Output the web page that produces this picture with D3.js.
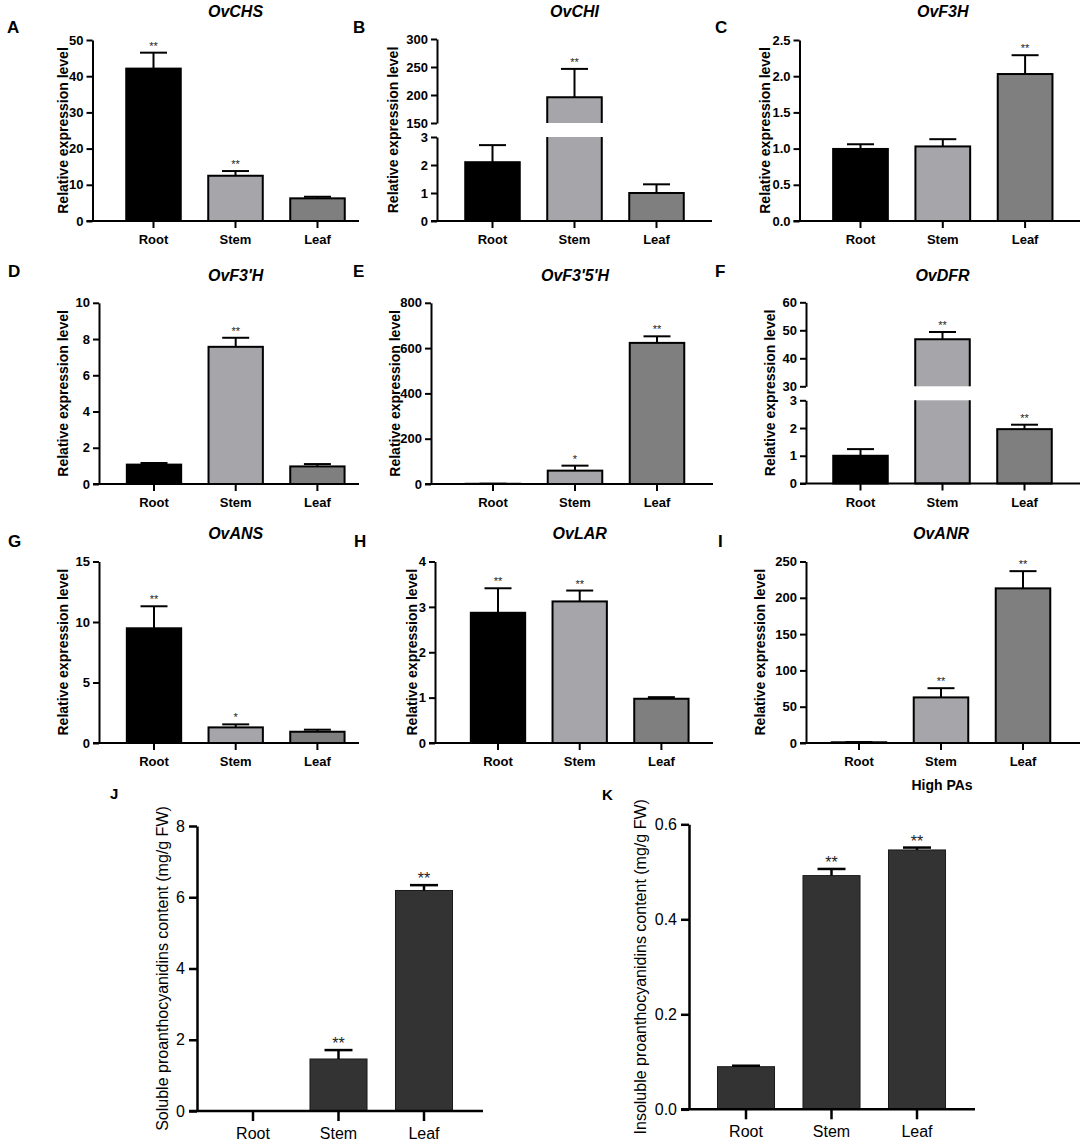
<!DOCTYPE html>
<html><head><meta charset="utf-8">
<script src="https://cdn.jsdelivr.net/npm/d3@7"></script>
<style>body{margin:0;background:#fff}svg{display:block}</style>
</head><body><svg id="c" width="1084" height="1144"></svg>
<script>
// ---------- DATA ----------
const categories = ["Root", "Stem", "Leaf"];

const chsMean = [42.1, 12.5, 6.26], chsErr = [4.4, 1.3, 0.44], chsSig = ["**", "**", ""];
const chiMean = [2.1, 196, 1.0], chiErr = [0.61, 50.6, 0.31], chiSig = ["", "**", ""];
const f3hMean = [0.995, 1.03, 2.03], f3hErr = [0.065, 0.1, 0.26], f3hSig = ["", "", "**"];
const f3phMean = [1.07, 7.57, 0.97], f3phErr = [0.09, 0.5, 0.13], f3phSig = ["", "**", ""];
const f35hMean = [1, 59, 623], f35hErr = [0.3, 22, 29], f35hSig = ["", "*", "**"];
const dfrMean = [1.0, 46.8, 1.96], dfrErr = [0.24, 2.6, 0.16], dfrSig = ["", "**", "**"];
const ansMean = [9.48, 1.29, 0.93], ansErr = [1.82, 0.25, 0.17], ansSig = ["**", "*", ""];
const larMean = [2.87, 3.12, 0.975], larErr = [0.54, 0.24, 0.035], larSig = ["**", "**", ""];
const anrMean = [1, 62.8, 213], anrErr = [0.3, 12.7, 23.7], anrSig = ["", "**", "**"];
const solubleMean = [0.005, 1.46, 6.19], solubleErr = [0, 0.25, 0.15], solubleSig = ["", "**", "**"];
const insolubleMean = [0.0897, 0.492, 0.546], insolubleErr = [0.002, 0.014, 0.005], insolubleSig = ["", "**", "**"];

const chsTicks = [0, 10, 20, 30, 40, 50];
const chiTicksLow = [0, 1, 2, 3], chiTicksHigh = [150, 200, 250, 300];
const f3hTicks = [0, 0.5, 1.0, 1.5, 2.0, 2.5];
const f3phTicks = [0, 2, 4, 6, 8, 10];
const f35hTicks = [0, 200, 400, 600, 800];
const dfrTicksLow = [0, 1, 2, 3], dfrTicksHigh = [30, 40, 50, 60];
const ansTicks = [0, 5, 10, 15];
const larTicks = [0, 1, 2, 3, 4];
const anrTicks = [0, 50, 100, 150, 200, 250];
const solubleTicks = [0, 2, 4, 6, 8];
const insolubleTicks = [0.0, 0.2, 0.4, 0.6];

const exprLabel = "Relative expression level";
const solubleLabel = "Soluble proanthocyanidins content (mg/g FW)";
const insolubleLabel = "Insoluble proanthocyanidins content (mg/g FW)";
const groupNote = "High PAs";

// ---------- LAYOUT ----------
const FONT = '"Liberation Sans", Arial, Helvetica, sans-serif';
const topFills = ["#000000", "#a6a6aa", "#7f7f7f"];
const rows = [
  {titleY: 17, letterY: 33, top: 40, bottom: 221},
  {titleY: 281, letterY: 277, top: 302.8, bottom: 484},
  {titleY: 539, letterY: 547, top: 561.5, bottom: 743}
];
function topPanel(row, o) {
  const r = rows[row];
  return Object.assign({
    style: "top", pad: 0.335, tick: 6, tpad: 3, xTick: 7, catDy: 23, axisW: 2,
    tickFont: 13, catFont: 13, labelFont: 14, bold: true, cap: 27, starFont: 11, starDy: 3,
    titleY: r.titleY, letterY: r.letterY, fills: topFills, barStroke: "#000", barStrokeW: 2,
    ylabel: exprLabel,
    segments: o.segments || [{domain: [0, o.ticks[o.ticks.length - 1]], range: [r.bottom, r.top], ticks: o.ticks}]
  }, o);
}
const panels = [
  topPanel(0, {letter: "A", title: "OvCHS", letterX: 7, axisX: 92.5, c0: 153.5, step: 82, xEnd: 359, labelX: 63, ticks: chsTicks, mean: chsMean, err: chsErr, sig: chsSig}),
  topPanel(0, {letter: "B", title: "OvCHI", letterX: 353, axisX: 437, c0: 492.5, step: 82, xEnd: 712, labelX: 393, mean: chiMean, err: chiErr, sig: chiSig,
    segments: [{domain: [0, 3], range: [221, 137], ticks: chiTicksLow}, {domain: [150, 300], range: [123, 39], ticks: chiTicksHigh}]}),
  topPanel(0, {letter: "C", title: "OvF3H", letterX: 715, axisX: 799.5, c0: 860.5, step: 82.3, xEnd: 1080, labelX: 765, ticks: f3hTicks, fmt: ".1f", mean: f3hMean, err: f3hErr, sig: f3hSig}),
  topPanel(1, {letter: "D", title: "OvF3'H", letterX: 8, axisX: 99, c0: 154, step: 81.7, xEnd: 359, labelX: 62.5, ticks: f3phTicks, mean: f3phMean, err: f3phErr, sig: f3phSig}),
  topPanel(1, {letter: "E", title: "OvF3'5'H", letterX: 353, axisX: 431, c0: 493, step: 82, xEnd: 713, labelX: 395, ticks: f35hTicks, mean: f35hMean, err: f35hErr, sig: f35hSig}),
  topPanel(1, {letter: "F", title: "OvDFR", letterX: 715, axisX: 806, c0: 860.5, step: 82, xEnd: 1080, labelX: 770, mean: dfrMean, err: dfrErr, sig: dfrSig,
    segments: [{domain: [0, 3], range: [483.5, 400.3], ticks: dfrTicksLow}, {domain: [30, 60], range: [386.3, 302.3], ticks: dfrTicksHigh}]}),
  topPanel(2, {letter: "G", title: "OvANS", letterX: 8, axisX: 99, c0: 154, step: 81.7, xEnd: 359, labelX: 62.5, ticks: ansTicks, mean: ansMean, err: ansErr, sig: ansSig}),
  topPanel(2, {letter: "H", title: "OvLAR", letterX: 354, axisX: 435, c0: 498, step: 81.7, xEnd: 713, labelX: 412, ticks: larTicks, mean: larMean, err: larErr, sig: larSig}),
  topPanel(2, {letter: "I", title: "OvANR", letterX: 718, axisX: 806, c0: 859, step: 82, xEnd: 1080, labelX: 760, ticks: anrTicks, mean: anrMean, err: anrErr, sig: anrSig}),
  {style: "bottom", letter: "J", letterX: 110, letterY: 799, axisX: 197, c0: 253, step: 85.5, xEnd: 483, labelX: 162,
   pad: 0.333, tick: 8, tpad: 4, xTick: 10, catDy: 28, axisW: 2.5, tickFont: 16, catFont: 16, labelFont: 16, bold: false,
   cap: 28, starFont: 16, starDy: 1, fills: ["#333333", "#333333", "#333333"], barStroke: "#1a1a1a", barStrokeW: 1,
   ylabel: solubleLabel, mean: solubleMean, err: solubleErr, sig: solubleSig,
   segments: [{domain: [0, 8], range: [1111, 826], ticks: solubleTicks}]},
  {style: "bottom", letter: "K", letterX: 602, letterY: 800, axisX: 689, c0: 746, step: 85.5, xEnd: 975, labelX: 640,
   pad: 0.333, tick: 8, tpad: 4, xTick: 10, catDy: 28, axisW: 2.5, tickFont: 16, catFont: 16, labelFont: 16, bold: false, fmt: ".1f",
   cap: 28, starFont: 16, starDy: 1, fills: ["#333333", "#333333", "#333333"], barStroke: "#1a1a1a", barStrokeW: 1,
   ylabel: insolubleLabel, mean: insolubleMean, err: insolubleErr, sig: insolubleSig,
   segments: [{domain: [0, 0.6], range: [1109.3, 824.3], ticks: insolubleTicks}], note: groupNote, noteX: 942, noteY: 790}
];

// ---------- DRAW ----------
const svg = d3.select("#c");
svg.append("rect").attr("width", 1084).attr("height", 1144).attr("fill", "#fff");

function drawPanel(p) {
  const g = svg.append("g");
  const weight = p.bold ? "bold" : "normal";
  const x = d3.scaleBand().domain(categories)
    .range([p.c0 - p.step / 2, p.c0 + (categories.length - 0.5) * p.step])
    .paddingInner(p.pad).paddingOuter(p.pad / 2);
  const bw = x.bandwidth();
  const segs = p.segments.map(s => Object.assign({}, s, {scale: d3.scaleLinear().domain(s.domain).range(s.range)}));
  const base = segs[0].range[0];
  const fmt = p.fmt ? d3.format(p.fmt) : d3.format("");

  // bars
  categories.forEach((c, i) => {
    const v = p.mean[i], e = p.err[i];
    const x0 = x(c), x1 = x0 + bw;
    let seg = segs[0];
    if (segs.length > 1 && v > segs[0].domain[1]) seg = segs[1];
    if (seg === segs[0]) {
      const yv = seg.scale(v);
      g.append("rect").attr("x", x0).attr("y", yv).attr("width", bw).attr("height", Math.max(0, base - yv))
        .attr("fill", p.fills[i]).attr("stroke", p.barStroke).attr("stroke-width", p.barStrokeW);
    } else {
      const lowTop = segs[0].range[1];
      g.append("rect").attr("x", x0).attr("y", lowTop).attr("width", bw).attr("height", base - lowTop).attr("fill", p.fills[i]);
      g.append("path").attr("d", `M${x0},${lowTop}V${base}H${x1}V${lowTop}`).attr("fill", "none")
        .attr("stroke", p.barStroke).attr("stroke-width", p.barStrokeW);
      const upBot = seg.range[0], yv = seg.scale(v);
      g.append("rect").attr("x", x0).attr("y", yv).attr("width", bw).attr("height", upBot - yv).attr("fill", p.fills[i]);
      g.append("path").attr("d", `M${x0},${upBot}V${yv}H${x1}V${upBot}`).attr("fill", "none")
        .attr("stroke", p.barStroke).attr("stroke-width", p.barStrokeW);
    }
    // error bar
    const yv = seg.scale(v), ye = seg.scale(v + e);
    const cx = x0 + bw / 2;
    if (e > 0) {
      g.append("line").attr("x1", cx).attr("x2", cx).attr("y1", yv).attr("y2", ye)
        .attr("stroke", "#000").attr("stroke-width", p.axisW);
      g.append("line").attr("x1", cx - p.cap / 2).attr("x2", cx + p.cap / 2).attr("y1", ye).attr("y2", ye)
        .attr("stroke", "#000").attr("stroke-width", p.axisW);
    }
    if (p.sig[i]) {
      g.append("text").attr("x", cx).attr("y", ye - p.starDy).attr("text-anchor", "middle")
        .style("font-family", FONT).style("font-size", p.starFont + "px").attr("fill", "#222").text(p.sig[i]);
    }
  });

  // y axis segments
  segs.forEach(s => {
    const ax = d3.axisLeft(s.scale).tickValues(s.ticks).tickFormat(fmt)
      .tickSize(p.tick).tickPadding(p.tpad).tickSizeOuter(0);
    const a = g.append("g").attr("transform", `translate(${p.axisX},0)`).call(ax);
    a.select(".domain").attr("stroke", "#000").attr("stroke-width", p.axisW);
    a.selectAll(".tick line").attr("stroke", "#000").attr("stroke-width", p.axisW);
    a.selectAll(".tick text").attr("fill", "#000").style("font-family", FONT)
      .style("font-size", p.tickFont + "px").style("font-weight", weight);
  });

  // x axis
  g.append("line").attr("x1", p.axisX - p.tick).attr("x2", p.xEnd).attr("y1", base).attr("y2", base)
    .attr("stroke", "#000").attr("stroke-width", p.axisW);
  categories.forEach(c => {
    const cx = x(c) + bw / 2;
    g.append("line").attr("x1", cx).attr("x2", cx).attr("y1", base).attr("y2", base + p.xTick)
      .attr("stroke", "#000").attr("stroke-width", p.axisW);
    g.append("text").attr("x", cx).attr("y", base + p.catDy).attr("text-anchor", "middle")
      .style("font-family", FONT).style("font-size", p.catFont + "px").style("font-weight", weight).text(c);
  });

  // y label
  const yTop = segs[segs.length - 1].range[1];
  const midY = (base + yTop) / 2;
  g.append("text").attr("transform", `translate(${p.labelX},${midY}) rotate(-90)`)
    .attr("text-anchor", "middle").attr("dominant-baseline", "central")
    .style("font-family", FONT).style("font-size", p.labelFont + "px").style("font-weight", weight).text(p.ylabel);

  // title
  if (p.title) {
    g.append("text").attr("x", x("Stem") + bw / 2).attr("y", p.titleY).attr("text-anchor", "middle")
      .style("font-family", FONT).style("font-size", "16px").style("font-weight", "bold").style("font-style", "italic").text(p.title);
  }
  // panel letter
  g.append("text").attr("x", p.letterX).attr("y", p.letterY)
    .style("font-family", FONT).style("font-size", p.style === "top" ? "17px" : "15px").style("font-weight", "bold").text(p.letter);
  if (p.note) {
    g.append("text").attr("x", p.noteX).attr("y", p.noteY).attr("text-anchor", "middle")
      .style("font-family", FONT).style("font-size", "14px").style("font-weight", "bold").text(p.note);
  }
}
panels.forEach(drawPanel);
</script></body></html>
